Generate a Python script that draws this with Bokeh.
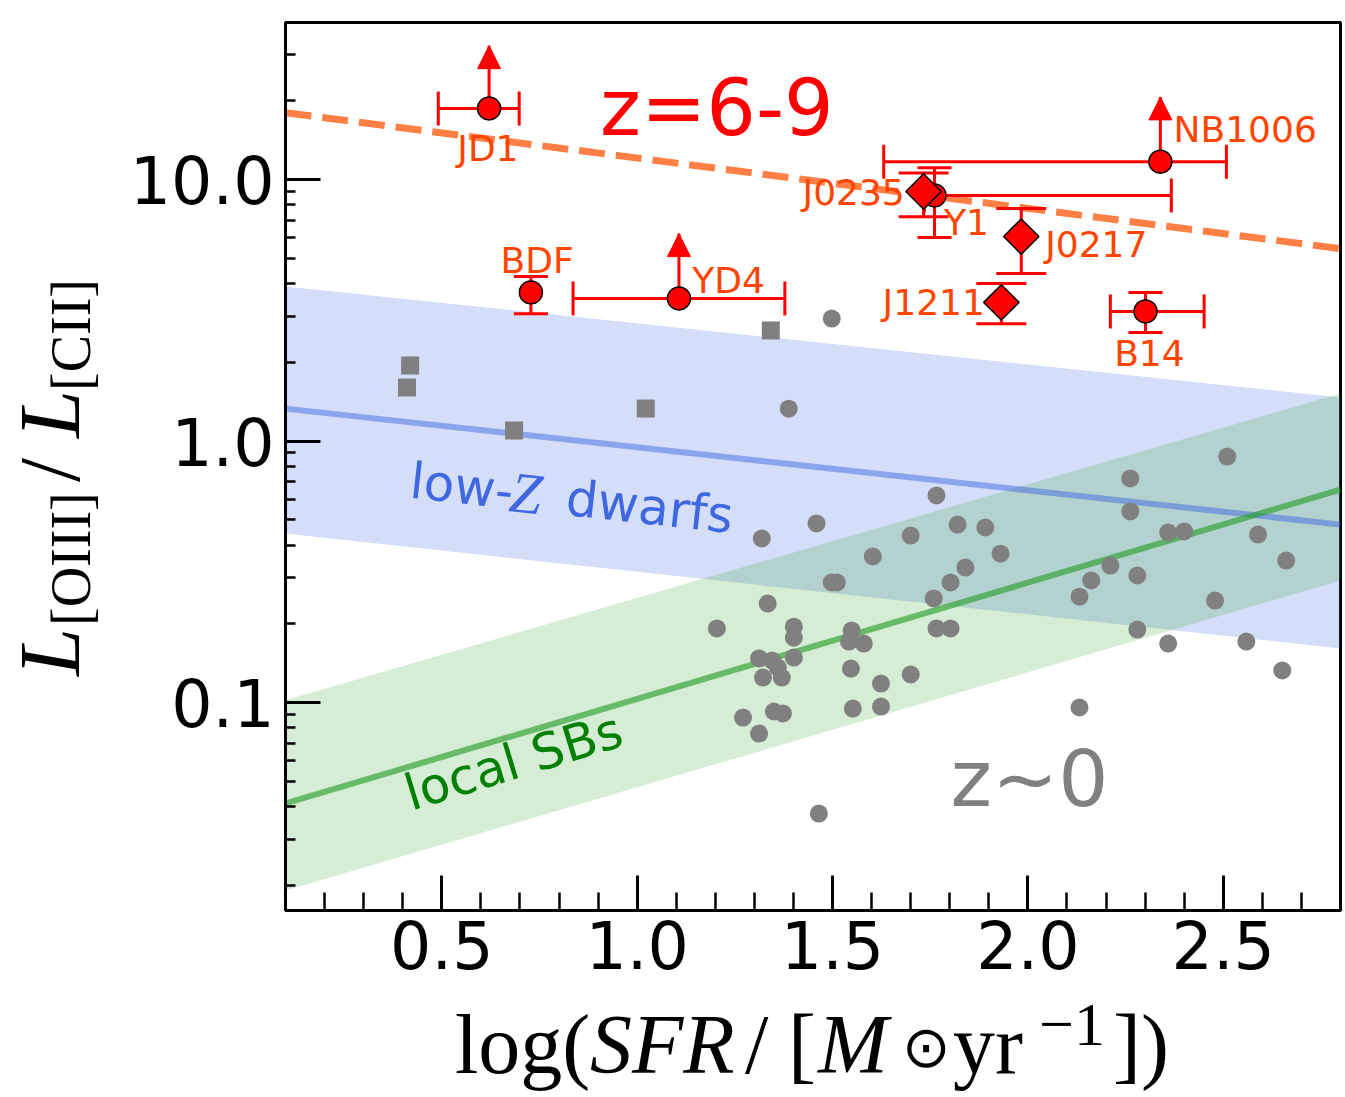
from math import pi, cos, sin, radians
from bokeh.plotting import figure
from bokeh.layouts import row, column
from bokeh.models import (Range1d, FixedTicker, CustomJSTickFormatter, ColumnDataSource,
                          Label, Arrow, NormalHead, Div)
from bokeh.core.properties import value
from bokeh.embed import file_html
from bokeh.resources import INLINE

nan = float("nan")

# ---------------- axes ----------------
x_lim = (0.1, 2.8)
y_lim = (0.01602, 39.85)
x_major = [0.5, 1.0, 1.5, 2.0, 2.5]
x_minor = [0.2, 0.3, 0.4, 0.6, 0.7, 0.8, 0.9, 1.1, 1.2, 1.3, 1.4, 1.6, 1.7, 1.8, 1.9,
           2.1, 2.2, 2.3, 2.4, 2.6, 2.7]
y_major = [0.1, 1.0, 10.0]
y_minor = [0.02, 0.03, 0.04, 0.05, 0.06, 0.07, 0.08, 0.09,
           0.2, 0.3, 0.4, 0.5, 0.6, 0.7, 0.8, 0.9,
           2, 3, 4, 5, 6, 7, 8, 9, 20, 30]

# ---------------- relations (end points) ----------------
fit_x = [0.1, 2.8]
z69_fit = [18.0, 5.44]
dwarf_fit = [1.33, 0.479]
dwarf_hi = [3.90, 1.467]
dwarf_lo = [0.443, 0.161]
sb_fit = [0.0411, 0.652]
sb_hi = [0.102, 1.52]
sb_lo = [0.0191, 0.293]

# ---------------- z~0 samples ----------------
dw_x = [0.419, 0.411, 0.685, 1.022, 1.342]
dw_y = [1.944, 1.602, 1.097, 1.331, 2.647]

z0_x = [1.498, 1.388, 1.766, 1.459, 1.319, 1.820, 1.891, 1.700, 1.603, 1.930,
        1.840, 1.498, 1.511, 1.802, 1.759, 1.334, 1.204, 1.766, 1.802, 1.401,
        1.401, 1.549, 1.542, 1.580, 1.401, 1.312, 1.345, 1.360, 1.322, 1.370,
        1.547, 1.700, 1.624, 1.271, 1.350, 1.373, 1.312, 1.552, 1.624, 1.465,
        2.510, 2.262, 2.262, 2.359, 2.400, 2.589, 2.661, 2.211, 2.280, 2.162,
        2.132, 2.479, 2.280, 2.359, 2.559, 2.651, 2.132]
z0_y = [2.94, 1.33, 0.619, 0.484, 0.424, 0.479, 0.467, 0.435, 0.362, 0.371,
        0.328, 0.288, 0.288, 0.288, 0.250, 0.239, 0.192, 0.192, 0.192, 0.195,
        0.177, 0.1885, 0.171, 0.168, 0.1486, 0.1474, 0.1448, 0.136, 0.1246, 0.1246,
        0.1349, 0.128, 0.1182, 0.0876, 0.0924, 0.0908, 0.0761, 0.0948, 0.0965, 0.0376,
        0.872, 0.719, 0.538, 0.447, 0.451, 0.439, 0.349, 0.334, 0.306, 0.293,
        0.254, 0.2455, 0.190, 0.168, 0.171, 0.1326, 0.0957]

# ---------------- z=6-9 sources ----------------
hz_circ_name = ["JD1", "BDF", "YD4", "NB1006", "Y1", "B14"]
hz_circ_x = [0.621, 0.728, 1.107, 2.339, 1.761, 2.301]
hz_circ_y = [18.7, 3.70, 3.51, 11.7, 8.69, 3.13]
hz_circ_xlo = [0.491, nan, 0.836, 1.631, 1.735, 2.211]
hz_circ_xhi = [0.698, nan, 1.378, 2.508, 2.367, 2.451]
hz_circ_ylo = [nan, 3.07, nan, nan, 6.0, 2.60]
hz_circ_yhi = [nan, 4.26, nan, nan, 11.1, 3.70]

lim_name = ["JD1", "YD4", "NB1006"]
lim_x = [0.621, 1.107, 2.339]
lim_y = [18.7, 3.51, 11.7]
lim_tip = [32.5, 6.21, 20.7]

hz_dia_name = ["J0235", "J0217", "J1211"]
hz_dia_x = [1.733, 1.983, 1.932]
hz_dia_y = [9.0, 6.05, 3.39]
hz_dia_ylo = [7.2, 4.37, 2.81]
hz_dia_yhi = [10.6, 7.74, 4.0]

lab_text = ["JD1", "BDF", "YD4", "NB1006", "J0235", "Y1", "J0217", "J1211", "B14"]
lab_x = [0.618, 0.744, 1.234, 2.556, 1.554, 1.843, 2.175, 1.759, 2.311]
lab_y = [13.1, 4.90, 4.11, 15.5, 8.92, 6.85, 5.64, 3.39, 2.16]

RED = "#ff0000"
LABRED = "#ff4500"

# layout: y-title column (118 px) | figure ; x-title strip below (97 px)
YDIV_W = 118
FIG_H = 1000

p = figure(width=1345 - YDIV_W, height=FIG_H, x_range=Range1d(*x_lim), y_range=Range1d(*y_lim),
           y_axis_type="log", output_backend="svg", toolbar_location=None,
           min_border_left=285 - YDIV_W, min_border_right=5, min_border_top=22,
           min_border_bottom=FIG_H - 910,
           background_fill_color="white", border_fill_color="white")
p.outline_line_color = "black"
p.outline_line_width = 3
p.grid.visible = False

fmt = CustomJSTickFormatter(code="return tick.toFixed(1);")
p.xaxis.ticker = FixedTicker(ticks=x_major, minor_ticks=x_minor)
p.yaxis.ticker = FixedTicker(ticks=y_major, minor_ticks=y_minor)
for ax in (p.xaxis[0], p.yaxis[0]):
    ax.formatter = fmt
    ax.axis_line_width = 3
    ax.axis_line_color = "black"
    ax.major_tick_in = 35
    ax.major_tick_out = 0
    ax.major_tick_line_width = 3
    ax.minor_tick_out = 0
    ax.minor_tick_line_width = 2.5
    ax.major_label_text_font = "DejaVu Sans"
    ax.major_label_text_font_size = "65px"
    ax.major_label_text_color = "black"
p.xaxis.minor_tick_in = 18
p.yaxis.minor_tick_in = 10
p.xaxis.major_label_standoff = 9
p.yaxis.major_label_standoff = 11

# bands and relations
p.varea(x=fit_x, y1=dwarf_lo, y2=dwarf_hi, fill_color="royalblue", fill_alpha=0.22)
p.varea(x=fit_x, y1=sb_lo, y2=sb_hi, fill_color="#2ca02c", fill_alpha=0.2)
p.line(fit_x, dwarf_fit, line_color="royalblue", line_alpha=0.5, line_width=6)
p.line(fit_x, sb_fit, line_color="#2ca02c", line_alpha=0.65, line_width=6)
p.line(fit_x, z69_fit, line_color="#ff7f45", line_width=7, line_dash="26 11")

# z~0 samples
p.scatter(dw_x, dw_y, marker="square", size=18, fill_color="#808080", line_color=None)
p.scatter(z0_x, z0_y, marker="circle", size=18, fill_color="#808080", line_color=None)

# high-z error bars
cs = ColumnDataSource(dict(x=hz_circ_x, y=hz_circ_y, xlo=hz_circ_xlo, xhi=hz_circ_xhi,
                           ylo=hz_circ_ylo, yhi=hz_circ_yhi))
ds = ColumnDataSource(dict(x=hz_dia_x, y=hz_dia_y, ylo=hz_dia_ylo, yhi=hz_dia_yhi))
ls = ColumnDataSource(dict(x=lim_x, y=lim_y, tip=lim_tip))

p.segment(x0="xlo", y0="y", x1="xhi", y1="y", source=cs, line_color=RED, line_width=3)
p.segment(x0="x", y0="ylo", x1="x", y1="yhi", source=cs, line_color=RED, line_width=3)
p.segment(x0="x", y0="ylo", x1="x", y1="yhi", source=ds, line_color=RED, line_width=3)
p.segment(x0="x", y0="y", x1="x", y1="tip", source=ls, line_color=RED, line_width=3)
for col in ("xlo", "xhi"):
    p.scatter(x=col, y="y", source=cs, marker="dash", angle=pi / 2, size=34,
              line_color=RED, line_width=3)
for col in ("ylo", "yhi"):
    p.scatter(x="x", y=col, source=cs, marker="dash", size=34, line_color=RED, line_width=3)
    p.scatter(x="x", y=col, source=ds, marker="dash", size=50, line_color=RED, line_width=3)

p.add_layout(Arrow(x_start="x", y_start="y", x_end="x", y_end="tip", source=ls,
                   line_color=None,
                   end=NormalHead(size=23, fill_color=RED, line_color=RED, line_width=1)))

p.scatter(x="x", y="y", source=cs, marker="circle", size=23, fill_color=RED,
          line_color="black", line_width=1.5)
p.scatter(x="x", y="y", source=ds, marker="square", angle=pi / 4, size=25, fill_color=RED,
          line_color="black", line_width=1.5)

p.text(x=lab_x, y=lab_y, text=lab_text, text_font=value("DejaVu Sans"),
       text_font_size=value("36px"), text_color=LABRED, text_align="center",
       text_baseline="middle")


def add_label(text, x, y, size, color="black", font="DejaVu Sans", style="normal",
              angle=0.0, align="left", baseline="alphabetic", xo=0.0, yo=0.0):
    p.add_layout(Label(x=x, y=y, text=text, text_font=font,
                       text_font_size=f"{size}px", text_font_style=style, text_color=color,
                       angle=angle, text_align=align, text_baseline=baseline,
                       x_offset=xo, y_offset=yo))


add_label("z=6-9", 1.204, 18.8, 78, color=RED, align="center", baseline="middle")
add_label("z~0", 2.004, 0.0508, 79, color="#808080", align="center", baseline="middle")

# rotated relation labels (offsets along / across the rotated baseline, px)
LIFT = 20
th = radians(-6.3)
for txt, d, size, font, style in [("low-", 0, 50, "DejaVu Sans", "normal"),
                                  ("Z", 100, 58, "Liberation Serif", "italic"),
                                  ("dwarfs", 157, 50, "DejaVu Sans", "normal")]:
    add_label(txt, 0.414, 0.592, size, color="#3f67e0", font=font, style=style, angle=th,
              xo=d * cos(th) - LIFT * sin(th), yo=d * sin(th) + LIFT * cos(th))
th2 = radians(17)
add_label("local SBs", 0.424, 0.0376, 50, color="#008000", angle=th2,
          xo=-LIFT * sin(th2), yo=LIFT * cos(th2))

# ---------------- axis titles (HTML, mixed italic / sub / superscript) ----------------
SERIF = "Liberation Serif"


def span(txt, left, top, size, style="normal", font=SERIF):
    return (f'<span style="position:absolute; left:{left}px; top:{top}px; '
            f"font-family:'{font}'; font-size:{size}px; font-style:{style}; "
            f'line-height:1.1; white-space:nowrap; color:#000;">{txt}</span>')


# x title: (text, left px, top px, size, style, font)
x_title = [("log(", 455, -13, 84, "normal", SERIF),
           ("SFR", 590, -13, 84, "italic", SERIF),
           ("/", 745, -13, 84, "normal", SERIF),
           ("[", 788, -13, 84, "normal", SERIF),
           ("M", 818, -13, 84, "italic", SERIF),
           ("\u2299", 902, 4, 58, "normal", "DejaVu Sans"),
           ("yr", 953, -13, 84, "normal", SERIF),
           ("\u22121", 1039, -22, 62, "normal", SERIF),
           ("])", 1113, -13, 84, "normal", SERIF)]
x_html = ('<div style="position:relative; width:0; height:0;">'
          + "".join(span(t, l, tp, s, st, f) for t, l, tp, s, st, f in x_title) + "</div>")

# y title, laid out along the text direction then rotated
y_title = [("L", 0, 3, 86, "italic"),
           ("[OIII]", 50, 41, 56, "normal"),
           ("/", 194, 3, 86, "normal"),
           ("L", 238, 3, 86, "italic"),
           ("[CII]", 285, 41, 56, "normal")]
y_html = ('<div style="position:relative; width:0; height:0; transform-origin:0 0; '
          'transform:translate(0px, 664px) rotate(-90deg);">'
          + "".join(span(t, u, v, s, st) for t, u, v, s, st in y_title) + "</div>")

ydiv = Div(text=y_html, width=YDIV_W, height=FIG_H, margin=0, styles={"overflow": "visible"})
xdiv = Div(text=x_html, width=1345, height=1097 - FIG_H, margin=0,
           styles={"overflow": "visible"})

layout = column(row(ydiv, p, spacing=0), xdiv, spacing=0)

open("out.html", "w").write(file_html(layout, INLINE))
